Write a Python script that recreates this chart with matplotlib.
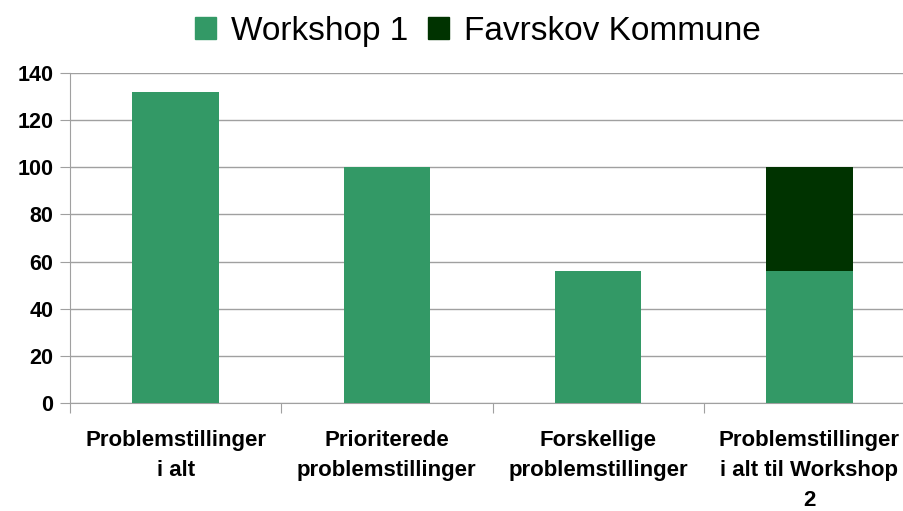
import numpy as np
import matplotlib
matplotlib.use("Agg")
import matplotlib.pyplot as plt
from matplotlib.patches import Patch

plt.rcParams['font.family'] = ['Liberation Sans', 'DejaVu Sans']

categories = ["Problemstillinger\ni alt", "Prioriterede\nproblemstillinger",
              "Forskellige\nproblemstillinger", "Problemstillinger\ni alt til Workshop\n2"]
workshop1 = [132, 100, 56, 56]
favrskov = [0, 0, 0, 44]
series_names = ["Workshop 1", "Favrskov Kommune"]
colors = ["#339966", "#003300"]

fig = plt.figure(figsize=(9.04, 5.11), dpi=100)
W, H = 904, 511
ax = fig.add_axes([70 / W, (H - 403) / H, 845 / W, 330 / H])

x = np.arange(len(categories))
ax.bar(x, workshop1, width=0.41, color=colors[0], zorder=3)
ax.bar(x, favrskov, width=0.41, bottom=workshop1, color=colors[1], zorder=3)

ax.set_ylim(0, 140)
ax.set_xlim(-0.5, len(categories) - 0.5)
ax.set_yticks(np.arange(0, 141, 20))
ax.yaxis.grid(True, color="#a0a0a0", lw=1, zorder=0)
for s in ["top", "right"]:
    ax.spines[s].set_visible(False)
for s in ["left", "bottom"]:
    ax.spines[s].set_color("#a0a0a0")
ax.tick_params(axis="y", length=7, color="#a0a0a0", labelsize=15.5, pad=5)
for lbl in ax.get_yticklabels():
    lbl.set_fontweight("bold")

ax.set_xticks(np.arange(-0.5, len(categories) - 0.5 + 0.01, 1.0))
ax.set_xticklabels([])
ax.set_xticks(x, minor=True)
ax.set_xticklabels(categories, minor=True, fontsize=16, fontweight="bold",
                   linespacing=1.55, va="top")
ax.tick_params(axis="x", which="major", length=7, color="#a0a0a0")
ax.tick_params(axis="x", which="minor", length=0, pad=19.5)

handles = [Patch(color=c) for c in colors]
fig.legend(handles, series_names, loc="center", bbox_to_anchor=(478 / W, 1 - 31 / H),
           ncol=2, frameon=False, fontsize=24, handlelength=0.62, handleheight=0.62,
           handletextpad=0.45, columnspacing=0.6)

fig.savefig("out.png", dpi=100)
